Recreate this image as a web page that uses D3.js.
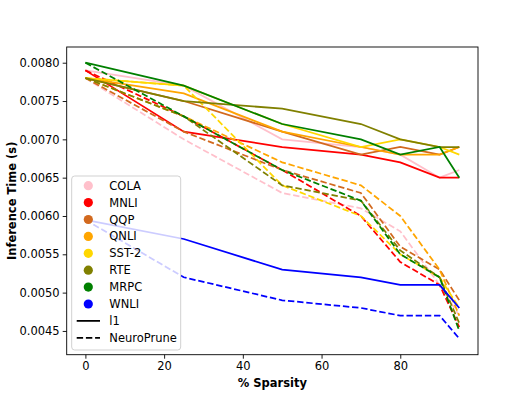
<!DOCTYPE html>
<html>
<head>
<meta charset="utf-8">
<script src="https://cdn.jsdelivr.net/npm/d3@7"></script>
<style>
  body { margin: 0; background: #fff; }
  text { font-family: "DejaVu Sans", sans-serif; }
</style>
</head>
<body>
<div id="chart"></div>
<script>
const sparsity = [0, 25, 50, 70, 80, 90, 95];
const tasks = ["COLA", "MNLI", "QQP", "QNLI", "SST-2", "RTE", "MRPC", "WNLI"];
const taskColors = ["pink", "red", "chocolate", "orange", "gold", "olive", "green", "blue"];

// l1 (solid)
const l1Times = [
  [0.0079, 0.0077, 0.0070, 0.0069, 0.0068, 0.0065, 0.0066],
  [0.0079, 0.0071, 0.0069, 0.0068, 0.0067, 0.0065, 0.0065],
  [0.0078, 0.0075, 0.0071, 0.0068, 0.0069, 0.0068, 0.0069],
  [0.0078, 0.0076, 0.0071, 0.0069, 0.0068, 0.0068, 0.0069],
  [0.0078, 0.0077, 0.0072, 0.0069, 0.0070, 0.0069, 0.0068],
  [0.0078, 0.0075, 0.0074, 0.0072, 0.0070, 0.0069, 0.0069],
  [0.0080, 0.0077, 0.0072, 0.0070, 0.0068, 0.0069, 0.0065],
  [0.00595, 0.0057, 0.0053, 0.0052, 0.0051, 0.0051, 0.0048]
];
// NeuroPrune (dashed)
const npTimes = [
  [0.0078, 0.0070, 0.0063, 0.0061, 0.0058, 0.0051, 0.0047],
  [0.0079, 0.0073, 0.0066, 0.0060, 0.0054, 0.0051, 0.00455],
  [0.0078, 0.0071, 0.0066, 0.0063, 0.0056, 0.0053, 0.0049],
  [0.0078, 0.0073, 0.0067, 0.0064, 0.0060, 0.0053, 0.0047],
  [0.0078, 0.0077, 0.0064, 0.0060, 0.0055, 0.0052, 0.0048],
  [0.0078, 0.0073, 0.0064, 0.0062, 0.00555, 0.0052, 0.0046],
  [0.0080, 0.0073, 0.0066, 0.0062, 0.0055, 0.0052, 0.0045],
  [0.00595, 0.0052, 0.0049, 0.0048, 0.0047, 0.0047, 0.0044]
];
const xTicks = [0, 20, 40, 60, 80];
const yTicks = [0.0045, 0.0050, 0.0055, 0.0060, 0.0065, 0.0070, 0.0075, 0.0080];

const width = 531, height = 399;
const margin = { top: 47, right: 53, bottom: 44.3, left: 66.7 };
const iw = width - margin.left - margin.right;
const ih = height - margin.top - margin.bottom;

const svg = d3.select("#chart").append("svg")
  .attr("width", width)
  .attr("height", height);

const x = d3.scaleLinear().domain([-4.75, 99.75]).range([margin.left, margin.left + iw]);
const y = d3.scaleLinear().domain([0.00419, 0.008205]).range([margin.top + ih, margin.top]);

const line = d3.line()
  .x((d, i) => x(sparsity[i]))
  .y(d => y(d));

// lines
const plot = svg.append("g");
tasks.forEach((t, k) => {
  plot.append("path")
    .attr("d", line(l1Times[k]))
    .attr("fill", "none")
    .attr("stroke", taskColors[k])
    .attr("stroke-width", 1.75);
  plot.append("path")
    .attr("d", line(npTimes[k]))
    .attr("fill", "none")
    .attr("stroke", taskColors[k])
    .attr("stroke-width", 1.75)
    .attr("stroke-dasharray", "6.4,2.8");
});

// axes
const xAxis = svg.append("g")
  .attr("transform", `translate(0,${margin.top + ih})`)
  .call(d3.axisBottom(x).tickValues(xTicks).tickSize(4).tickPadding(3));
const yAxis = svg.append("g")
  .attr("transform", `translate(${margin.left},0)`)
  .call(d3.axisLeft(y).tickValues(yTicks).tickSize(4).tickPadding(3).tickFormat(d3.format(".4f")));
[xAxis, yAxis].forEach(a => {
  a.select(".domain").remove();
  a.selectAll("line").attr("stroke", "#000").attr("stroke-width", 0.9);
  a.selectAll("text").attr("font-size", 11.5).attr("fill", "#000")
    .attr("font-family", "DejaVu Sans, sans-serif");
});

// frame
svg.append("rect")
  .attr("x", margin.left).attr("y", margin.top)
  .attr("width", iw).attr("height", ih)
  .attr("fill", "none").attr("stroke", "#000").attr("stroke-width", 0.9);

// axis titles
svg.append("text")
  .attr("x", margin.left + iw / 2).attr("y", 387)
  .attr("text-anchor", "middle")
  .attr("font-size", 11.5).attr("font-weight", "bold")
  .text("% Sparsity");
svg.append("text")
  .attr("transform", `translate(12,${margin.top + ih / 2}) rotate(-90)`)
  .attr("text-anchor", "middle")
  .attr("dy", "0.35em")
  .attr("font-size", 11.5).attr("font-weight", "bold")
  .text("Inference Time (s)");

// legend
const lg = svg.append("g").attr("transform", "translate(71.7,176)");
lg.append("rect")
  .attr("width", 109).attr("height", 174)
  .attr("rx", 3)
  .attr("fill", "#fff").attr("fill-opacity", 0.8)
  .attr("stroke", "#ccc").attr("stroke-width", 0.9);
const rowH = 16.9;
tasks.forEach((t, k) => {
  const cy = 9.7 + k * rowH;
  lg.append("circle").attr("cx", 16.6).attr("cy", cy).attr("r", 4.6).attr("fill", taskColors[k]);
  lg.append("text").attr("x", 37.6).attr("y", cy).attr("dy", "0.35em")
    .attr("font-size", 11.5).text(t);
});
[["l1", null], ["NeuroPrune", "6.4,2.8"]].forEach(([name, dash], j) => {
  const cy = 9.7 + (8 + j) * rowH;
  lg.append("line").attr("x1", 5).attr("x2", 28.3).attr("y1", cy).attr("y2", cy)
    .attr("stroke", "#000").attr("stroke-width", 1.75)
    .attr("stroke-dasharray", dash);
  lg.append("text").attr("x", 37.6).attr("y", cy).attr("dy", "0.35em")
    .attr("font-size", 11.5).text(name);
});
</script>
</body>
</html>
